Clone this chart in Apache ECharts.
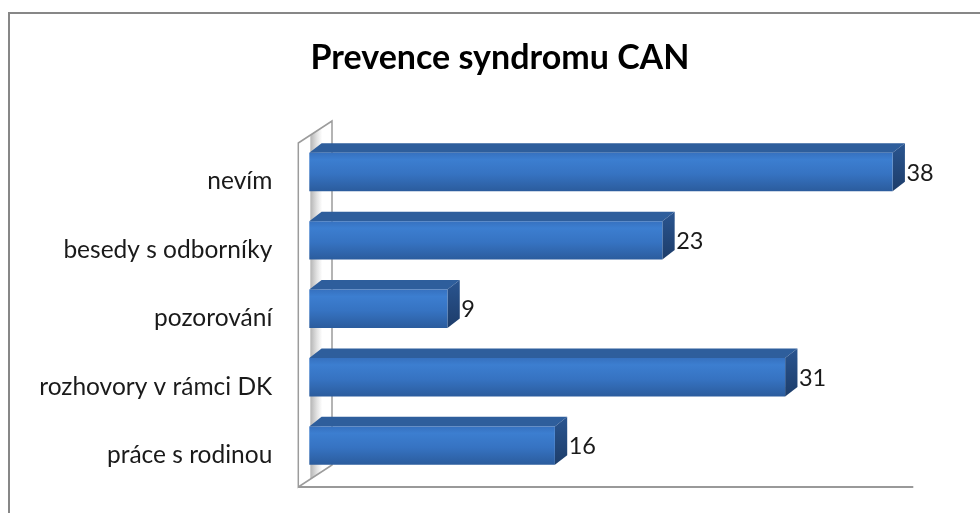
<!DOCTYPE html>
<html>
<head>
<meta charset="utf-8">
<script src="https://cdn.jsdelivr.net/npm/echarts@6/dist/echarts.min.js"></script>
<style>
  html, body { margin: 0; padding: 0; background: #fff; overflow: hidden; }
  #wrap { position: relative; width: 980px; height: 513px; overflow: hidden; }
  #frame { position: absolute; left: 8px; top: 12px; width: 1000px; height: 600px;
           border: 2px solid #878787; box-sizing: border-box; }
  #chart { position: absolute; left: 0; top: 0; width: 980px; height: 513px; }
</style>
</head>
<body>
<div id="wrap">
  <div id="frame"></div>
  <div id="chart"></div>
</div>
<script>
// Answers, listed from the top bar down
const categories = ['nevím', 'besedy s odborníky', 'pozorování', 'rozhovory v rámci DK', 'práce s rodinou'];
const counts = [38, 23, 9, 31, 16];
const titleText = 'Prevence syndromu CAN';
const axisMax = 40;

const FONT = 'Lato, "Liberation Sans", sans-serif';

// Backdrop: slanted side wall and the floor edge of the 3D plot area
function renderFrame(params, api) {
  const cs = params.coordSys;
  const fx = cs.x - 11, bx = cs.x + 22.7;
  const bottom = cs.y + cs.height;
  const wallFill = new echarts.graphic.LinearGradient(0, 0, 1, 0, [
    { offset: 0, color: '#ffffff' },
    { offset: 0.34, color: '#ffffff' },
    { offset: 0.38, color: '#b9b9b9' },
    { offset: 0.55, color: '#e2e2e2' },
    { offset: 0.7, color: '#ffffff' },
    { offset: 1, color: '#ffffff' }
  ]);
  return {
    type: 'group',
    children: [
      {
        type: 'polygon',
        shape: { points: [[fx, cs.y + 5.2], [bx, cs.y - 16.8], [bx, bottom - 14.8], [fx, bottom + 7.2]] },
        style: { fill: wallFill, stroke: '#9c9c9c', lineWidth: 1.5 }
      },
      {
        type: 'line',
        shape: { x1: fx, y1: bottom + 7.2, x2: cs.x + cs.width - 10, y2: bottom + 7.2 },
        style: { stroke: '#999999', lineWidth: 2 }
      }
    ]
  };
}

// One 3D box per answer: front face, top face, right side face and the value
function renderBar(params, api) {
  const val = api.value(0);
  const idx = api.value(1);
  const end = api.coord([val, idx]);
  const start = api.coord([0, idx]);
  const band = api.size([0, 1])[1];
  const h = band * 0.562;
  const dx = band * 0.18, dy = band * 0.139;
  const x0 = start[0], x1 = end[0], yc = end[1];
  const yT = yc - h / 2, yB = yc + h / 2;

  const frontFill = new echarts.graphic.LinearGradient(0, 0, 0, 1, [
    { offset: 0, color: '#3671bf' },
    { offset: 0.18, color: '#3c7ed0' },
    { offset: 0.55, color: '#3673c2' },
    { offset: 1, color: '#2b5c9d' }
  ]);
  const sideFill = new echarts.graphic.LinearGradient(0, 0, 0, 1, [
    { offset: 0, color: '#2a5590' },
    { offset: 1, color: '#1d3d6a' }
  ]);

  return {
    type: 'group',
    children: [
      {
        type: 'polygon',
        shape: { points: [[x0, yT], [x1, yT], [x1 + dx, yT - dy], [x0 + dx, yT - dy]] },
        style: { fill: '#2e5e9c' }
      },
      {
        type: 'polygon',
        shape: { points: [[x1, yT], [x1 + dx, yT - dy], [x1 + dx, yB - dy], [x1, yB]] },
        style: { fill: sideFill }
      },
      {
        type: 'rect',
        shape: { x: x0, y: yT, width: x1 - x0, height: h },
        style: { fill: frontFill }
      },
      {
        type: 'text',
        style: {
          text: String(val),
          x: x1 + dx + 1.5,
          y: yc + 1,
          verticalAlign: 'middle',
          align: 'left',
          font: '23.5px ' + FONT,
          fill: '#1a1a1a'
        }
      }
    ]
  };
}

const chart = echarts.init(document.getElementById('chart'), null, { renderer: 'canvas' });
chart.setOption({
  animation: false,
  backgroundColor: 'transparent',
  title: {
    text: titleText,
    left: 495,
    textAlign: 'center',
    top: 36,
    textStyle: { fontFamily: FONT, fontSize: 34, fontWeight: 'bold', color: '#000000' }
  },
  grid: { left: 309.3, right: 56.7, top: 137.8, bottom: 33.2, containLabel: false },
  xAxis: {
    type: 'value',
    min: 0,
    max: axisMax,
    show: false,
    splitLine: { show: false }
  },
  yAxis: {
    type: 'category',
    data: categories,
    inverse: true,
    axisLine: { show: false },
    axisTick: { show: false },
    splitLine: { show: false },
    axisLabel: {
      margin: 37,
      formatter: (v) => '{c|' + v + '}',
      rich: {
        c: {
          fontFamily: FONT,
          fontSize: 24.5,
          color: '#1a1a1a',
          padding: [19, 0, 0, 0]
        }
      }
    }
  },
  series: [
    {
      type: 'custom',
      name: 'frame',
      renderItem: renderFrame,
      data: [[0, 0]],
      encode: { x: 0, y: 1 },
      silent: true,
      z: 1
    },
    {
      type: 'custom',
      name: 'bars',
      renderItem: renderBar,
      data: counts.map((v, i) => [v, i]),
      encode: { x: 0, y: 1 },
      z: 2
    }
  ]
});
</script>
</body>
</html>
